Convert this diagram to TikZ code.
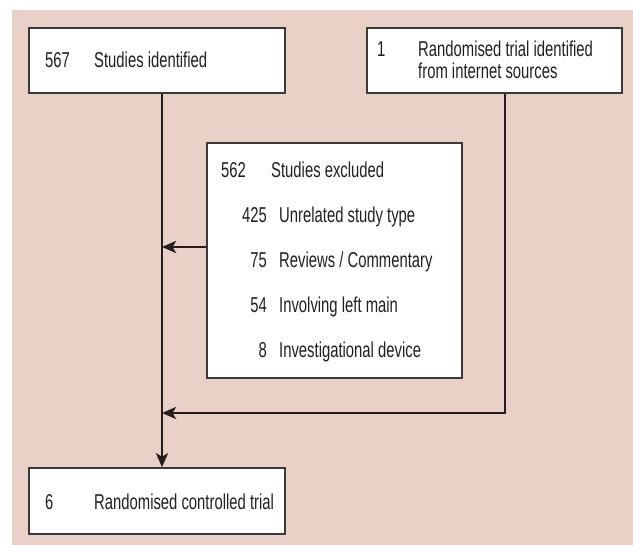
\documentclass[tikz,border=0pt]{standalone}
\usepackage{fontspec}
\setmainfont{Liberation Sans}[FakeStretch=0.69]
\usetikzlibrary{arrows.meta}
\definecolor{bgpink}{HTML}{EAD1C8}
\definecolor{ink}{HTML}{231F20}
\definecolor{boxline}{HTML}{3A3A3A}
\begin{document}
\begin{tikzpicture}[x=1pt,y=-1pt,
  box/.style={draw=boxline,line width=1.5pt,fill=white,rectangle,inner sep=0pt},
  lbl/.style={anchor=base west,inner sep=0pt,font=\fontsize{21.5}{24}\selectfont,text=ink},
  num/.style={anchor=base east,inner sep=0pt,font=\fontsize{21.5}{24}\selectfont,text=ink},
  flow/.style={draw=ink,line width=2.8pt},
  arr/.style={flow,-{Stealth[length=14pt,width=12pt,inset=3.5pt]}}]
\useasboundingbox (0,0) rectangle (633,545);
\fill[white] (0,0) rectangle (633,545);
\fill[bgpink] (12,10) rectangle (633,545);
% boxes
\node[box,minimum width=256pt,minimum height=65pt] (b1) at (157,60.5) {};
\node[box,minimum width=255pt,minimum height=65pt] (b2) at (494.5,60.5) {};
\node[box,minimum width=255pt,minimum height=235pt] (b3) at (334.5,260.5) {};
\node[box,minimum width=256pt,minimum height=66pt] (b4) at (157,501) {};
% texts box 1
\node[lbl] (t1a) at (45,68) {567};
\node[lbl] (t1b) at (94,68) {Studies identified};
% box 2
\node[lbl] (t2a) at (377,57) {1};
\node[lbl] (t2b) at (418,57) {Randomised trial identified};
\node[lbl] (t2c) at (418,79) {from internet sources};
% box 3
\node[lbl] (t3a) at (221,178) {562};
\node[lbl] (t3b) at (271,178) {Studies excluded};
\node[num] (n1) at (267,223) {425};
\node[lbl] (l1) at (279,223) {Unrelated study type};
\node[num] (n2) at (267,268) {75};
\node[lbl] (l2) at (279,268) {Reviews / Commentary};
\node[num] (n3) at (267,313) {54};
\node[lbl] (l3) at (279,313) {Involving left main};
\node[num] (n4) at (267,358) {8};
\node[lbl] (l4) at (279,358) {Investigational device};
% box 4
\node[lbl] (t4a) at (45,510) {6};
\node[lbl] (t4b) at (94,510) {Randomised controlled trial};
% connectors
\coordinate (vx) at (162,0);
\coordinate (rx) at (505,0);
\coordinate (ex) at (0,247);
\coordinate (jy) at (0,413);
\draw[arr] (b1.south -| vx) -- (b4.north -| vx);
\draw[arr] (b3.west |- ex) -- (vx |- ex);
\draw[arr] (b2.south -| rx) -- (rx |- jy) -- (vx |- jy);
\end{tikzpicture}
\end{document}
